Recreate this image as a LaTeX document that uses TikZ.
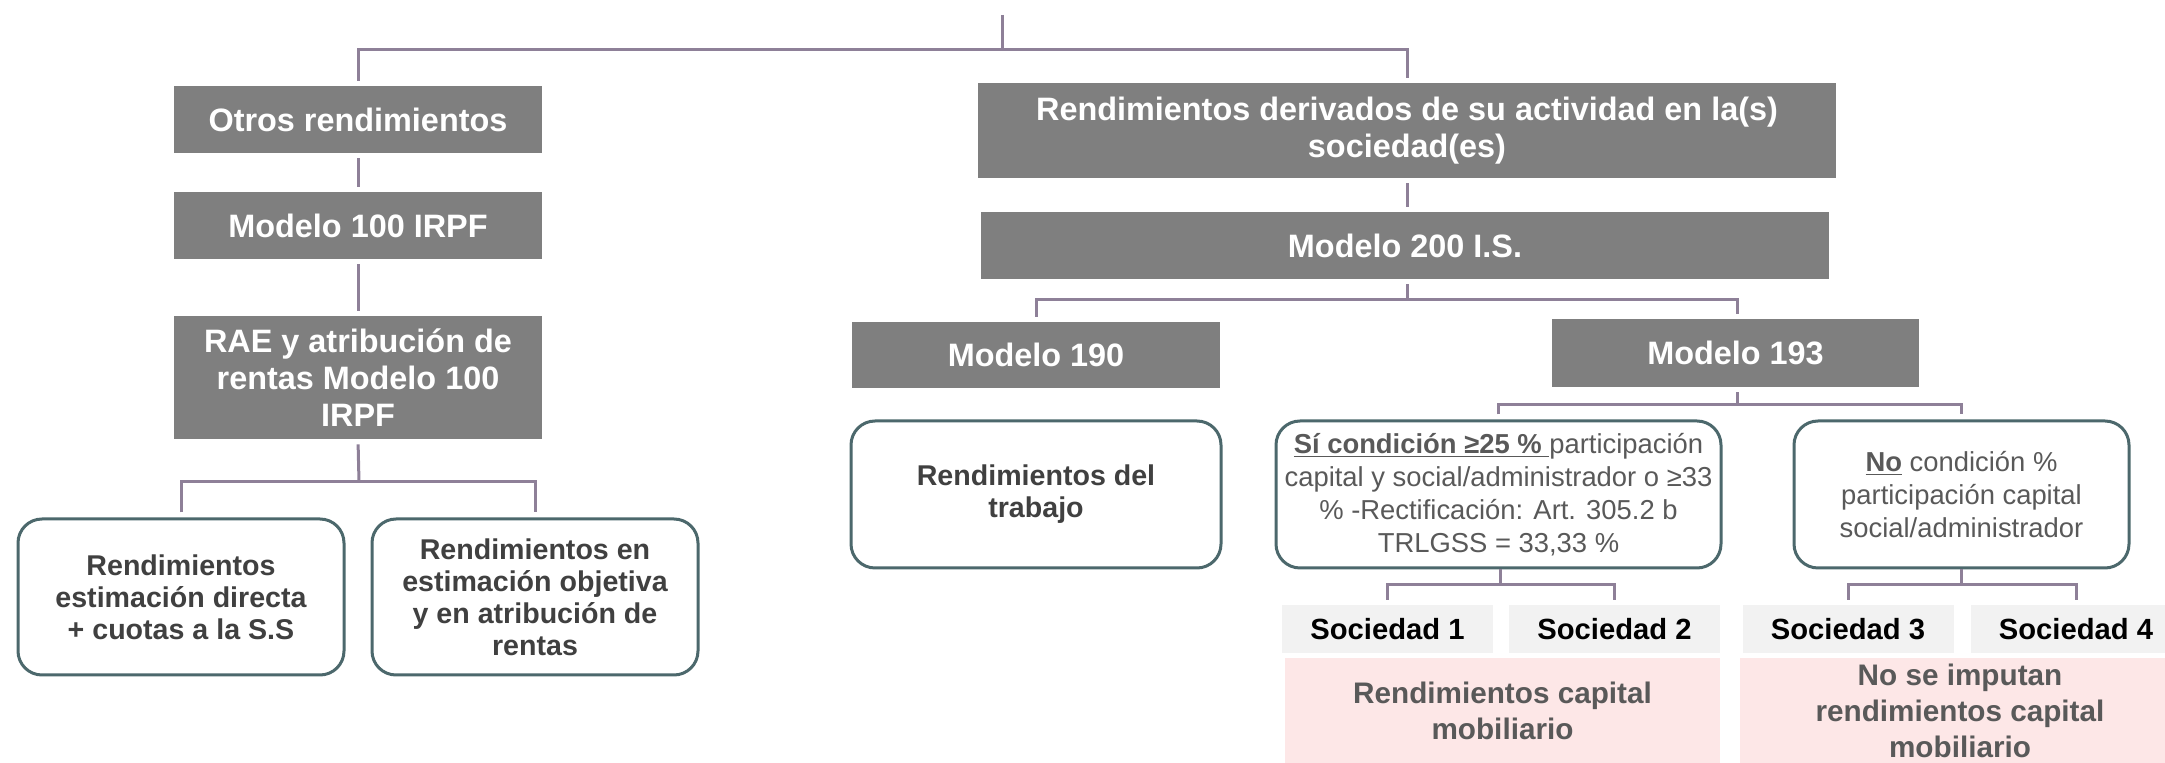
\documentclass[tikz,border=0pt]{standalone}
\usepackage{fontspec}
\setmainfont{Liberation Sans}
\definecolor{boxgray}{HTML}{7F7F7F}
\definecolor{conncol}{HTML}{8E8098}
\definecolor{rborder}{HTML}{4C686C}
\definecolor{rtext}{HTML}{404040}
\definecolor{mtext}{HTML}{595959}
\definecolor{socfill}{HTML}{F2F2F2}
\definecolor{pinkfill}{HTML}{FDE7E7}
\begin{document}
\begin{tikzpicture}[x=0.5pt,y=-0.5pt,
  graybox/.style={fill=boxgray, text=white, font=\fontsize{16.2}{18.5}\selectfont\bfseries, align=center, inner sep=0pt},
  roundbox/.style={draw=rborder, line width=1.5pt, rounded corners=12pt, fill=white, align=center, inner sep=0pt, text=rtext, font=\fontsize{14.3}{16}\selectfont\bfseries},
  condbox/.style={roundbox, text=mtext, font=\fontsize{13.7}{16.4}\selectfont},
  socbox/.style={fill=socfill, text=black, font=\fontsize{14.6}{17}\selectfont\bfseries, inner sep=0pt, minimum width=105.5pt, minimum height=24pt},
  pinkbox/.style={fill=pinkfill, text=mtext, font=\fontsize{14.85}{18}\selectfont\bfseries, align=center, inner sep=0pt},
  conn/.style={draw=conncol, line width=1.5pt},
  gap/.style={shorten <=2.5pt, shorten >=2.5pt},
  gapstart/.style={shorten <=2.5pt}
]
\useasboundingbox (0,0) rectangle (2165,763);
\clip (0,0) rectangle (2165,763);

% gray boxes
\node[graybox, minimum width=184pt, minimum height=33.5pt] (otros) at (358,119.5) {Otros rendimientos};
\node[graybox, minimum width=184pt, minimum height=33.5pt] (m100) at (358,225.5) {Modelo 100 IRPF};
\node[graybox, minimum width=184pt, minimum height=61.5pt] (rae) at (358,377.5) {RAE y atribución de\\rentas Modelo 100\\IRPF};
\node[graybox, minimum width=429pt, minimum height=47.5pt] (rend) at (1407,130.5) {Rendimientos derivados de su actividad en la(s)\\sociedad(es)};
\node[graybox, minimum width=424pt, minimum height=33.5pt] (m200) at (1405,245.5) {Modelo 200 I.S.};
\node[graybox, minimum width=184pt, minimum height=33pt] (m190) at (1036,355) {Modelo 190};
\node[graybox, minimum width=183.5pt, minimum height=34pt] (m193) at (1735.5,353) {Modelo 193};

% rounded boxes
\node[roundbox, minimum width=163pt, minimum height=78pt] (rsd) at (181,597) {Rendimientos\\estimación directa\\+ cuotas a la S.S};
\node[roundbox, minimum width=163pt, minimum height=78pt] (reo) at (535,597) {Rendimientos en\\estimación objetiva\\y en atribución de\\rentas};
\node[roundbox, minimum width=185pt, minimum height=73.5pt] (rdt) at (1036,494.5) {Rendimientos del\\trabajo};
\node[condbox, minimum width=222.5pt, minimum height=73.5pt] (si) at (1498.5,494.5) {\underline{\textbf{Sí condición ≥25 \%\ }}participación\\capital y social/administrador o ≥33\\\% -Rectificación: Art. 305.2 b\\TRLGSS = 33,33 \%};
\node[condbox, minimum width=167.5pt, minimum height=73.5pt] (no) at (1961.5,494.5) {\underline{\textbf{No}} condición \%\\participación capital\\social/administrador};

% sociedades
\node[socbox] (s1) at (1387.5,629) {Sociedad 1};
\node[socbox] (s2) at (1614.5,629) {Sociedad 2};
\node[socbox] (s3) at (1848,629) {Sociedad 3};
\node[socbox] (s4) at (2076,629) {Sociedad 4};

% pink boxes
\node[pinkbox, minimum width=217.5pt, minimum height=52.5pt] (p1) at (1502.5,710.5) {Rendimientos capital\\mobiliario};
\node[pinkbox, minimum width=220pt, minimum height=52.5pt] (p2) at (1960,710.5) {No se imputan\\rendimientos capital\\mobiliario};

% junctions
\coordinate (top) at (1002,15);
\coordinate (jtop) at (1002,50);
\coordinate (jrae) at (359,482);
\coordinate (j200) at (1407,300);
\coordinate (j193) at (1737,405);
\coordinate (jsi) at (1500,585);
\coordinate (jno) at (1961,585);

% connectors
\draw[conn] (top) -- (jtop);
\draw[conn, gap] (otros.north) |- (jtop) -| (rend.north);
\draw[conn, gap] (otros.south) -- (m100.north);
\draw[conn, gap] (m100.south) -- (rae.north);
\draw[conn, gapstart] (rae.south) -- (jrae);
\draw[conn, gap] (rsd.north) |- (jrae) -| (reo.north);
\draw[conn, gap] (rend.south) -- (rend.south |- m200.north);
\draw[conn, gapstart] (j200 |- m200.south) -- (j200);
\draw[conn, gap] (m190.north) |- (j200) -| (j193 |- m193.north);
\draw[conn, gapstart] (j193 |- m193.south) -- (j193);
\draw[conn, gap] (si.north) |- (j193) -| (no.north);
\draw[conn] (jsi |- si.south) -- (jsi);
\draw[conn, gap] (s1.north) |- (jsi) -| (s2.north);
\draw[conn] (jno |- no.south) -- (jno);
\draw[conn, gap] (s3.north) |- (jno) -| (s4.north);
\end{tikzpicture}
\end{document}
